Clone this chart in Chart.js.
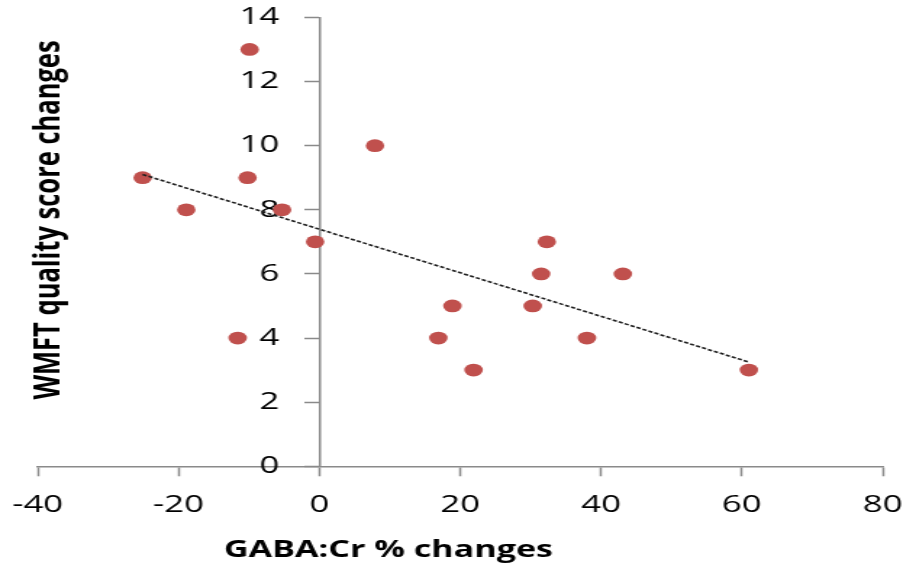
<!DOCTYPE html>
<html>
<head>
<meta charset="utf-8">
<script src="https://cdn.jsdelivr.net/npm/chart.js@4.4.1/dist/chart.umd.min.js"></script>
<style>
    html, body { margin: 0; padding: 0; background: #fff; }
</style>
</head>
<body>
<!-- the reference is stretched sideways, so the canvas is drawn narrow and widened by its inline style -->
<canvas id="grafico" width="632" height="566" style="display:block;width:916px;height:566px"></canvas>
<script>
// one point per subject: GABA:Cr % change (x) and WMFT quality score change (y)
var gabaCambios = [-25.1, -18.9, -9.9, -10.2, -5.3, -11.6, -0.6, 7.9, 16.9, 18.9, 21.9, 30.3, 31.5, 32.3, 38.0, 43.1, 61.0];
var wmftCambios = [9, 8, 13, 9, 8, 4, 7, 10, 4, 5, 3, 5, 6, 7, 4, 6, 3];

// ends of the dashed linear trendline
var tendenciaX = [-25.1, 61.0];
var tendenciaY = [9.1, 3.25];

// axis ticks
var ticksX = [-40, -20, 0, 20, 40, 60, 80];
var ticksY = [0, 2, 4, 6, 8, 10, 12, 14];

var tituloX = 'GABA:Cr % changes';
var tituloY = 'WMFT quality score changes';

document.addEventListener("DOMContentLoaded", function() {
    var puntos = gabaCambios.map(function(x, i) {
        return { x: x, y: wmftCambios[i] };
    });
    var linea = tendenciaX.map(function(x, i) {
        return { x: x, y: tendenciaY[i] };
    });

    var gris = '#8a8a8a';
    var fuenteTicks = { family: '"Open Sans", sans-serif', size: 24 };
    // tall line box pushes the x labels down without widening the side padding
    var fuenteTicksX = { family: '"Open Sans", sans-serif', size: 24, lineHeight: 2.28 };

    // axis titles sit where the original had them, not centred on the axes
    var titulosEjes = {
        id: 'titulosEjes',
        afterDraw: function(chart) {
            var ctx = chart.ctx;
            ctx.save();
            ctx.fillStyle = '#000';
            ctx.textAlign = 'center';
            ctx.textBaseline = 'alphabetic';
            ctx.font = 'bold 23.5px "Open Sans", sans-serif';
            ctx.fillText(tituloX, 268, 557);
            ctx.translate(41, 220);
            ctx.rotate(-Math.PI / 2);
            ctx.font = 'bold 25.5px "Open Sans", sans-serif';
            ctx.fillText(tituloY, 0, 0);
            ctx.restore();
        }
    };

    var config = {
        type: 'scatter',
        data: {
            datasets: [
                {
                    label: 'Linear trend',
                    data: linea,
                    showLine: true,
                    borderColor: '#1e1e1e',
                    borderWidth: 1.6,
                    borderDash: [3, 1.5],
                    pointRadius: 0,
                    order: 0
                },
                {
                    label: 'Subjects',
                    data: puntos,
                    pointRadius: 6.4,
                    pointBackgroundColor: '#C0504D',
                    pointBorderColor: '#C0504D',
                    pointBorderWidth: 0,
                    order: 1
                }
            ]
        },
        options: {
            responsive: false,
            devicePixelRatio: 1,
            animation: false,
            layout: { padding: { left: 26, right: 23, top: 3, bottom: 31 } },
            plugins: {
                legend: { display: false },
                tooltip: { enabled: false }
            },
            scales: {
                x: {
                    type: 'linear',
                    position: 'bottom',
                    min: ticksX[0],
                    max: ticksX[ticksX.length - 1],
                    ticks: { stepSize: ticksX[1] - ticksX[0], color: '#000', font: fuenteTicksX, padding: 2, autoSkip: false },
                    grid: { drawOnChartArea: false, drawTicks: true, tickLength: 10, tickColor: gris, tickWidth: 1.5 },
                    border: { color: gris, width: 1.5 }
                },
                // y axis line and tick marks, crossing at x = 0
                y: {
                    type: 'linear',
                    position: { x: 0 },
                    min: ticksY[0],
                    max: ticksY[ticksY.length - 1],
                    ticks: { stepSize: ticksY[1] - ticksY[0], display: false },
                    grid: { drawOnChartArea: false, drawTicks: true, tickLength: 10, tickColor: gris, tickWidth: 1.5 },
                    border: { color: gris, width: 1.5 }
                },
                // same y scale again, only for its labels, set a little left of the axis
                yEtiquetas: {
                    type: 'linear',
                    axis: 'y',
                    position: { x: -5.7 },
                    min: ticksY[0],
                    max: ticksY[ticksY.length - 1],
                    ticks: { stepSize: ticksY[1] - ticksY[0], color: '#000', font: fuenteTicks, autoSkip: false },
                    grid: { display: false },
                    border: { display: false }
                }
            }
        },
        plugins: [titulosEjes]
    };

    var canvas = document.getElementById('grafico');
    new Chart(canvas.getContext('2d'), config);
});
</script>
</body>
</html>
